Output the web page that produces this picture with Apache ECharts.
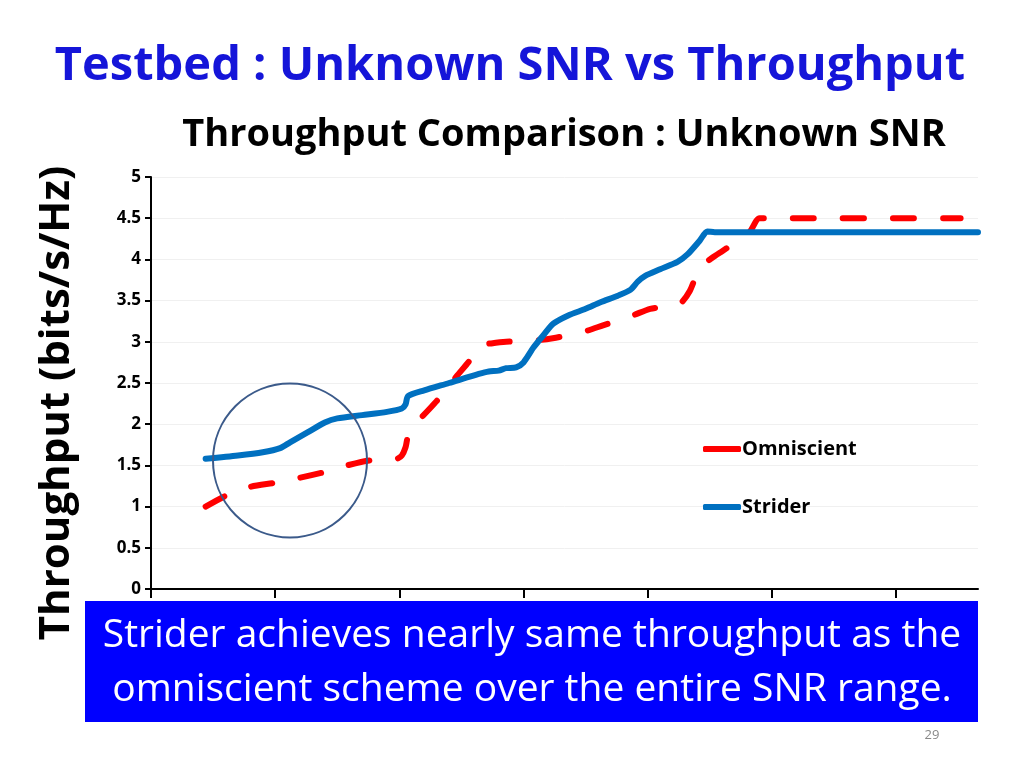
<!DOCTYPE html>
<html>
<head>
<meta charset="utf-8">
<script src="https://cdn.jsdelivr.net/npm/echarts@6/dist/echarts.min.js"></script>
<style>
html,body{margin:0;padding:0;background:#fff;}
#chart{width:1024px;height:768px;}
</style>
</head>
<body>
<div id="chart"></div>
<script>
// ---- data (x in SNR units, 5 per tick) ----
const seriesNames = ['Omniscient', 'Strider'];
const omniscient = [
  [2.2,1.00],[3.0,1.13],[4.0,1.24],[5.0,1.29],[6.0,1.35],[7.0,1.42],[7.9,1.50],[8.8,1.56],
  [9.9,1.58],[10.1,1.62],[10.25,1.72],[10.35,1.85],[10.8,2.05],[11.5,2.28],[12.3,2.58],
  [12.8,2.76],[13.3,2.96],[13.7,2.98],[14.3,3.00],[15.6,3.02],[16.3,3.05],[17.4,3.12],
  [18.2,3.20],[19.4,3.32],[20.1,3.40],[20.8,3.43],[21.3,3.46],[21.7,3.62],[22.1,3.90],
  [22.6,4.02],[23.0,4.10],[23.6,4.22],[24.1,4.33],[24.5,4.50],[25.0,4.50],[32.6,4.50]
];
const strider = [
  [2.2,1.58],[3.5,1.62],[4.5,1.66],[5.2,1.71],[5.6,1.78],[6.3,1.90],[7.0,2.02],[7.5,2.07],
  [8.5,2.11],[9.5,2.15],[10.1,2.19],[10.25,2.24],[10.35,2.34],[11.0,2.41],[12.0,2.50],
  [13.2,2.61],[13.6,2.64],[14.0,2.65],[14.3,2.68],[14.7,2.69],[15.0,2.75],[15.4,2.93],
  [15.8,3.08],[16.2,3.22],[16.8,3.32],[17.5,3.40],[18.1,3.48],[18.8,3.56],[19.3,3.63],
  [19.6,3.73],[19.9,3.80],[20.5,3.88],[21.2,3.97],[21.6,4.06],[22.1,4.23],[22.4,4.34],
  [22.7,4.33],[33.3,4.33]
];
const xTicks = [0,5,10,15,20,25,30];
const yTicks = [0,0.5,1,1.5,2,2.5,3,3.5,4,4.5,5];
const slideTitle = 'Testbed : Unknown SNR vs Throughput';
const chartTitle = 'Throughput Comparison : Unknown SNR';
const yAxisTitle = 'Throughput (bits/s/Hz)';
const boxLines = ['Strider achieves nearly same throughput as the', 'omniscient scheme over the entire SNR range.'];
const pageNumber = '29';

const FONT = '"Open Sans", Lato, sans-serif';
const chart = echarts.init(document.getElementById('chart'));
chart.setOption({
  backgroundColor: '#ffffff',
  animation: false,
  grid: {left: 151, right: 46, top: 177, bottom: 179},
  xAxis: {
    type: 'value', min: 0, max: 33.3,
    axisLine: {lineStyle: {color: '#000', width: 2}},
    axisTick: {show: true, inside: false, length: 9, customValues: xTicks, lineStyle: {color: '#000', width: 2}},
    axisLabel: {show: false},
    splitLine: {show: false}
  },
  yAxis: {
    type: 'value', min: 0, max: 5, interval: 0.5,
    axisLine: {show: true, lineStyle: {color: '#000', width: 2}},
    axisTick: {show: true, length: 6, lineStyle: {color: '#000', width: 2}},
    axisLabel: {color: '#000', fontSize: 17, fontWeight: 'bold', fontFamily: FONT, margin: 10,
      formatter: v => String(v)},
    splitLine: {show: true, lineStyle: {color: '#f0f0f0', width: 1}}
  },
  legend: {
    orient: 'vertical', left: 698, top: 434,
    itemWidth: 38, itemHeight: 6, itemGap: 38,
    icon: 'roundRect',
    textStyle: {color: '#000', fontSize: 20, fontWeight: 'bold', fontFamily: FONT, padding: [0,0,0,-4]},
    data: seriesNames
  },
  series: [
    {
      name: seriesNames[0], type: 'line', data: omniscient, symbol: 'none', smooth: 0.25,
      color: '#ff0000',
      lineStyle: {color: '#ff0000', width: 6, type: [21, 29], cap: 'round', join: 'round'}
    },
    {
      name: seriesNames[1], type: 'line', data: strider, symbol: 'none', smooth: 0.25,
      color: '#0070c0',
      lineStyle: {color: '#0070c0', width: 6, type: 'solid', cap: 'round', join: 'round'}
    }
  ],
  graphic: [
    {type: 'text', x: 510, y: 67, z: 100,
      style: {text: slideTitle, fill: '#1515d9', font: 'bold 47px ' + FONT, textAlign: 'center', textVerticalAlign: 'middle'}},
    {type: 'text', x: 564, y: 135, z: 100,
      style: {text: chartTitle, fill: '#000', font: 'bold 38px ' + FONT, textAlign: 'center', textVerticalAlign: 'middle'}},
    {type: 'text', x: 57, y: 403, rotation: Math.PI / 2, z: 100,
      style: {text: yAxisTitle, fill: '#000', font: 'bold 42px ' + FONT, textAlign: 'center', textVerticalAlign: 'middle'}},
    {type: 'circle', shape: {cx: 290, cy: 460.5, r: 77}, z: 100,
      style: {fill: 'none', stroke: '#3b5a8a', lineWidth: 2}},
    {type: 'rect', shape: {x: 85, y: 601, width: 893, height: 121}, z: 100,
      style: {fill: '#0000ff'}},
    {type: 'text', x: 532, y: 636, z: 101,
      style: {text: boxLines[0], fill: '#fff', font: '39px ' + FONT, textAlign: 'center', textVerticalAlign: 'middle'}},
    {type: 'text', x: 532, y: 690, z: 101,
      style: {text: boxLines[1], fill: '#fff', font: '39px ' + FONT, textAlign: 'center', textVerticalAlign: 'middle'}},
    {type: 'text', x: 932, y: 735, z: 101,
      style: {text: pageNumber, fill: '#888', font: '13px ' + FONT, textAlign: 'center', textVerticalAlign: 'middle'}}
  ]
});
</script>
</body>
</html>
